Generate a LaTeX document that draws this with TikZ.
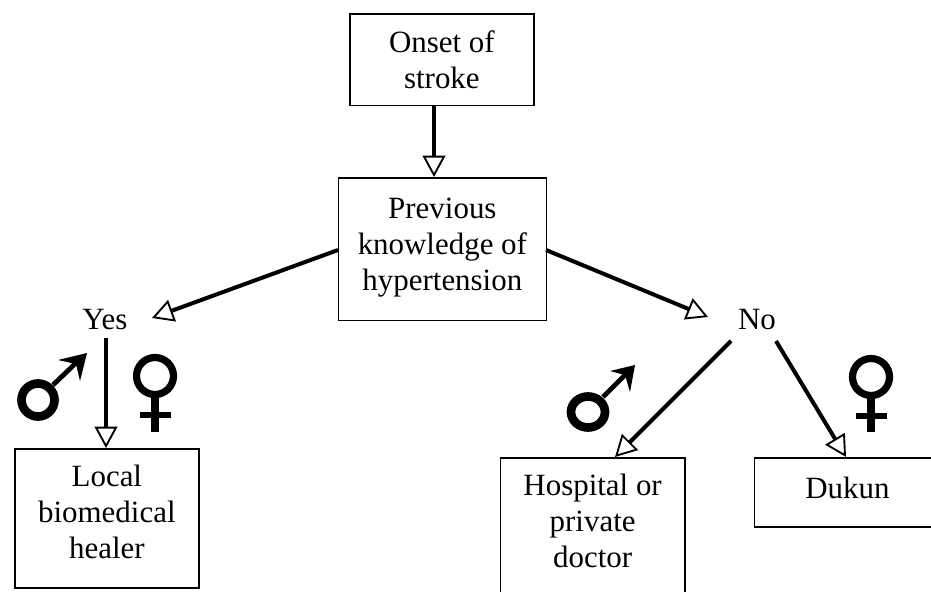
\documentclass[tikz,border=0pt]{standalone}
\usepackage{fontspec}
\setmainfont{Liberation Serif}
\usetikzlibrary{arrows.meta}
\tikzset{
 box/.style={draw,line width=1.3pt,align=center,font=\fontsize{23.2}{27}\selectfont,anchor=north west,inner sep=0pt},
 lab/.style={font=\fontsize{23.2}{27}\selectfont,inner sep=0pt},
 arr/.style={line width=3pt,-{Triangle[open,length=16pt,width=17pt,line width=1.4pt,fill=white]}},
 thinarr/.style={line width=2.8pt,-{Triangle[open,length=16pt,width=17pt,line width=1.4pt,fill=white]}},
 malering/.style={line width=6.5pt},
 femalering/.style={line width=5.4pt},
 symline/.style={line width=3.6pt},
 symstem/.style={line width=5.8pt},
 symbar/.style={line width=5.2pt}
}
\begin{document}
\begin{tikzpicture}[x=0.75pt,y=-0.75pt]
\useasboundingbox[fill=white] (0,0) rectangle (931,592);
\node[box,minimum width=184*0.75pt,minimum height=91.5*0.75pt] (onset) at (349,13) {Onset of\\stroke};
\node[box,minimum width=208*0.75pt,minimum height=142.5*0.75pt] (prev) at (337.5,177) {Previous\\knowledge of\\hypertension\\[-20.2pt]\mbox{}};
\node[box,minimum width=184*0.75pt,minimum height=139*0.75pt] (local) at (14,448) {Local\\biomedical\\healer\\[-16.5pt]\mbox{}};
\node[box,minimum width=184.5*0.75pt,minimum height=150*0.75pt] (hosp) at (499.5,457) {Hospital or\\private\\doctor\\[-9pt]\mbox{}};
\node[box,minimum width=186*0.75pt,minimum height=69*0.75pt] (dukun) at (753.5,457) {Dukun\\[-19.5pt]\mbox{}};
\node[lab] (yes) at (105,320) {Yes};
\node[lab] (no) at (757,320) {No};
\coordinate (ps) at (434,105);
\coordinate (pt) at (434,177);
\coordinate (yl) at (338,250);
\coordinate (yt) at (152,318);
\coordinate (nl) at (546,250);
\coordinate (nt) at (708,317);
\coordinate (ys) at (106,338);
\coordinate (yd) at (106,448);
\coordinate (ha) at (731,341);
\coordinate (hb) at (615,457);
\coordinate (da) at (776,341);
\coordinate (db) at (846,457);
\draw[arr] (ps) -- (pt);
\draw[arr] (yl) -- (yt);
\draw[arr] (nl) -- (nt);
\draw[thinarr] (ys) -- (yd);
\draw[arr] (ha) -- (hb);
\draw[arr] (da) -- (db);
% male, left
\draw[malering] (38,400) circle (16.5);
\draw[symline] (53,385) -- (78,361);
\fill (87,353) -- (58,360) -- (76,364) -- (80,381) -- cycle;
% female, left
\draw[femalering] (155,376) circle (18.5);
\draw[symstem] (155,396) -- (155,432);
\draw[symbar] (140,415) -- (171,415);
% male, right
\draw[malering] (588,412) ellipse (17 and 15.5);
\draw[symline] (603,397) -- (626,374);
\fill (635,365) -- (610,371) -- (625,375) -- (630,392) -- cycle;
% female, right
\draw[femalering] (871,377) circle (18.5);
\draw[symstem] (871,397) -- (871,432);
\draw[symbar] (856,416) -- (887,416);
\end{tikzpicture}
\end{document}
